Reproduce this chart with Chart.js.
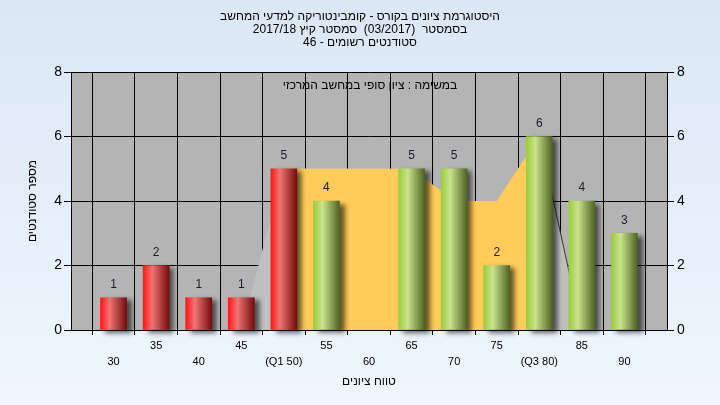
<!DOCTYPE html>
<html>
<head>
<meta charset="utf-8">
<script src="https://cdn.jsdelivr.net/npm/chart.js@4/dist/chart.umd.min.js"></script>
<style>
html,body{margin:0;padding:0;}
body{width:720px;height:405px;overflow:hidden;}
#wrap{width:720px;height:405px;position:relative;}
</style>
</head>
<body>
<div id="wrap"><canvas id="c" width="720" height="405"></canvas></div>
<script>
const titleLines = [
  "היסטוגרמת ציונים בקורס - קומבינטוריקה למדעי המחשב",
  "בסמסטר  (03/2017)  סמסטר קיץ 2017/18",
  "סטודנטים רשומים - 46"
];
const noteText = "במשימה : ציון סופי במחשב המרכזי";
const xTitle = "טווח ציונים";
const yTitle = "מספר סטודנטים";

const grades = [30, 35, 40, 45, 50, 55, 60, 65, 70, 75, 80, 85, 90];
const gradeLabels = ["30", "35", "40", "45", "(Q1 50)", "55", "60", "65", "70", "75", "(Q3 80)", "85", "90"];
const counts = [1, 2, 1, 1, 5, 4, 0, 5, 5, 2, 6, 4, 3];
const failFlags = [1, 1, 1, 1, 1, 0, 0, 0, 0, 0, 0, 0, 0];
const outerArea = [0, 0, 0, 0, 5, 5, 5, 5, 4, 4, 6, 0, 0];
const iqrArea = [null, null, null, null, 5, 5, 5, 5, 4, 4, 6, null, null];
const edgeLineX = [80, 85];
const edgeLineY = [6, 0];
const yTicks = [0, 2, 4, 6, 8];

const FONT = '"Liberation Sans", "DejaVu Sans", Arial, sans-serif';
const BAR_W = 26;

const barData = grades.map((g, i) => ({x: g, y: counts[i]}));
const outerData = grades.map((g, i) => ({x: g, y: outerArea[i]}));
const iqrData = grades.map((g, i) => ({x: g, y: iqrArea[i]})).filter(p => p.y !== null);
const edgeData = edgeLineX.map((x, i) => ({x: x, y: edgeLineY[i]}));

const labelMap = {};
grades.forEach((g, i) => { labelMap[g] = {text: gradeLabels[i], row: i % 2 === 0 ? 1 : 0}; });

const bgPlugin = {
  id: 'bg',
  beforeDraw(chart) {
    const {ctx, chartArea: a, width, height} = chart;
    ctx.save();
    const g = ctx.createLinearGradient(0, 0, 0, height);
    g.addColorStop(0, '#dbe7f5');
    g.addColorStop(1, '#eff6fe');
    ctx.fillStyle = g;
    ctx.fillRect(0, 0, width, height);
    ctx.fillStyle = '#b4b4b4';
    ctx.fillRect(a.left, a.top, a.right - a.left, a.bottom - a.top);
    ctx.restore();
  },
  afterDraw(chart) {
    const {ctx} = chart;
    ctx.save();
    ctx.direction = 'rtl';
    ctx.textAlign = 'center';
    ctx.textBaseline = 'middle';
    ctx.fillStyle = '#000';
    ctx.font = '12px ' + FONT;
    const ys = [17, 30, 43];
    titleLines.forEach((t, i) => ctx.fillText(t, 360, ys[i]));
    ctx.fillText(noteText, 370, 86);
    ctx.restore();
  }
};

const barStylePlugin = {
  id: 'barStyle',
  beforeDatasetDraw(chart, args) {
    if (args.index !== 0) return;
    const {ctx} = chart;
    const meta = chart.getDatasetMeta(0);
    meta.data.forEach((el, i) => {
      const cx = el.x;
      if (!isFinite(cx)) return;
      if (counts[i] === 0) {
        el.options = Object.assign({}, el.options, {backgroundColor: 'rgba(0,0,0,0)', borderWidth: 0});
        return;
      }
      const g = ctx.createLinearGradient(cx - BAR_W / 2, 0, cx + BAR_W / 2, 0);
      if (failFlags[i]) {
        g.addColorStop(0, '#ff1616');
        g.addColorStop(0.35, '#f07474');
        g.addColorStop(1, '#740c0c');
      } else {
        g.addColorStop(0, '#9ccc3c');
        g.addColorStop(0.35, '#c9e38c');
        g.addColorStop(1, '#4e6424');
      }
      el.options = Object.assign({}, el.options, {backgroundColor: g});
    });
    ctx.save();
    ctx.shadowColor = 'rgba(0,0,0,0.6)';
    ctx.shadowOffsetX = 5;
    ctx.shadowOffsetY = 3;
    ctx.shadowBlur = 5;
  },
  afterDatasetDraw(chart, args) {
    if (args.index !== 0) return;
    const {ctx} = chart;
    ctx.restore();
    const meta = chart.getDatasetMeta(0);
    ctx.save();
    ctx.font = '12px ' + FONT;
    ctx.fillStyle = '#1a1a30';
    ctx.textAlign = 'center';
    ctx.textBaseline = 'middle';
    meta.data.forEach((el, i) => {
      if (counts[i] > 0) ctx.fillText(String(counts[i]), el.x, el.y - 13);
    });
    ctx.restore();
  }
};

new Chart(document.getElementById('c'), {
  type: 'bar',
  data: {
    datasets: [
      {
        type: 'bar',
        data: barData,
        backgroundColor: '#888',
        borderWidth: 0,
        barThickness: BAR_W,
        order: 0,
        clip: false
      },
      {
        type: 'line',
        data: edgeData,
        borderColor: '#333',
        borderWidth: 1,
        pointRadius: 0,
        fill: false,
        order: 1
      },
      {
        type: 'line',
        data: iqrData,
        backgroundColor: '#ffcc59',
        borderWidth: 0,
        borderColor: 'rgba(0,0,0,0)',
        pointRadius: 0,
        fill: 'origin',
        tension: 0,
        order: 2
      },
      {
        type: 'line',
        data: outerData,
        backgroundColor: '#bfbfbf',
        borderWidth: 0,
        borderColor: 'rgba(0,0,0,0)',
        pointRadius: 0,
        fill: 'origin',
        tension: 0,
        order: 3
      }
    ]
  },
  options: {
    responsive: false,
    animation: false,
    events: [],
    layout: {padding: {top: 72, left: 0, right: 0, bottom: 0}},
    plugins: {legend: {display: false}, tooltip: {enabled: false}, title: {display: false}},
    scales: {
      x: {
        type: 'linear',
        min: 25,
        max: 95,
        offset: false,
        afterFit(s) { s.height = 75; },
        afterBuildTicks(s) {
          const t = [];
          for (let v = 25; v <= 95; v += 5) t.push({value: v});
          s.ticks = t;
        },
        ticks: {
          autoSkip: false,
          maxRotation: 0,
          minRotation: 0,
          padding: 3,
          color: '#000',
          font: {family: FONT, size: 11, lineHeight: '16px'},
          callback(v) {
            const m = labelMap[v];
            if (!m) return '';
            return m.row === 0 ? [m.text, ''] : ['', m.text];
          }
        },
        grid: {color: '#000', lineWidth: 1, tickLength: 5, drawTicks: true},
        border: {color: '#000'},
        title: {display: true, text: xTitle, color: '#000', font: {family: FONT, size: 12}, padding: {top: 2, bottom: 16}}
      },
      y: {
        position: 'left',
        min: 0,
        max: 8,
        afterFit(s) { s.width = 71; },
        afterBuildTicks(s) { s.ticks = yTicks.map(v => ({value: v})); },
        ticks: {color: '#000', padding: 2, font: {family: FONT, size: 14}},
        grid: {color: '#000', lineWidth: 1, tickLength: 7},
        border: {color: '#000'},
        title: {display: true, text: yTitle, color: '#000', font: {family: FONT, size: 12}, padding: {top: 25, bottom: 0}}
      },
      y2: {
        position: 'right',
        min: 0,
        max: 8,
        afterFit(s) { s.width = 53; },
        afterBuildTicks(s) { s.ticks = yTicks.map(v => ({value: v})); },
        ticks: {color: '#000', padding: 3, font: {family: FONT, size: 14}},
        grid: {drawOnChartArea: false, color: '#000', tickLength: 7},
        border: {color: '#000'}
      }
    }
  },
  plugins: [bgPlugin, barStylePlugin]
});
</script>
</body>
</html>
